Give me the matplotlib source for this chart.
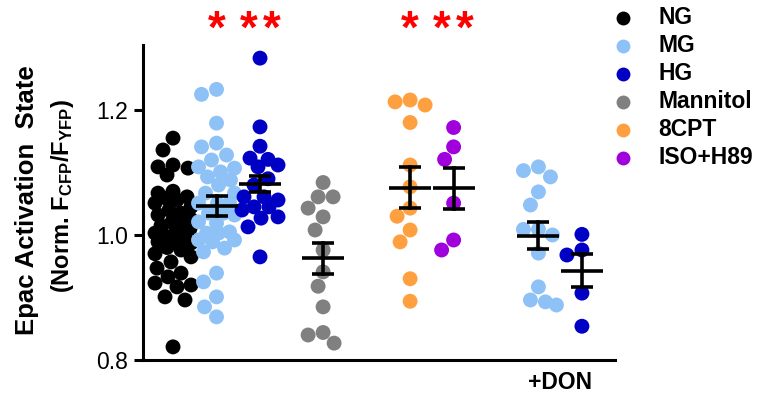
import numpy as np
import matplotlib
matplotlib.use("Agg")
import matplotlib.pyplot as plt

plt.rcParams["font.family"] = ["Liberation Sans", "DejaVu Sans"]
plt.rcParams["mathtext.fontset"] = "custom"
plt.rcParams["mathtext.bf"] = "Liberation Sans:bold"
plt.rcParams["mathtext.rm"] = "Liberation Sans:bold"
plt.rcParams["mathtext.default"] = "bf"

# ---- data -------------------------------------------------------------
group_names = ["NG", "MG", "HG", "Mannitol", "8CPT", "ISO+H89", "MG", "HG"]
legend_names = ["NG", "MG", "HG", "Mannitol", "8CPT", "ISO+H89"]

ng = [1.155, 1.136, 1.109, 1.107, 1.112, 1.096, 1.067, 1.061, 1.056, 1.059,
      1.045, 1.051, 1.032, 1.035, 1.040, 1.021, 1.019, 1.025, 1.003, 1.005,
      1.010, 0.998, 0.987, 0.989, 0.992, 0.995, 0.970, 0.976, 0.980, 0.965,
      0.957, 0.947, 0.933, 0.939, 0.917, 0.920, 0.923, 0.901, 0.896, 0.821,
      1.015, 1.070]
mg = [1.233, 1.225, 1.179, 1.147, 1.141, 1.128, 1.120, 1.109, 1.107, 1.101,
      1.093, 1.088, 1.080, 1.067, 1.067, 1.051, 1.051, 1.051, 1.032, 1.035,
      1.035, 1.021, 1.019, 1.003, 1.005, 1.003, 0.992, 0.989, 0.992, 0.979,
      0.973, 0.939, 0.925, 0.901, 0.885, 0.869]
hg = [1.283, 1.173, 1.142, 1.123, 1.121, 1.112, 1.109, 1.090, 1.080, 1.061,
      1.061, 1.056, 1.045, 1.045, 1.040, 1.027, 1.029, 1.013, 0.965]
mannitol = [1.084, 1.061, 1.061, 1.043, 1.029, 1.008, 0.976, 0.941, 0.918,
            0.885, 0.844, 0.840, 0.827]
cpt8 = [1.213, 1.208, 1.216, 1.180, 1.112, 1.077, 1.043, 1.030, 1.008,
        0.989, 0.930, 0.894]
iso_h89 = [1.172, 1.141, 1.121, 1.051, 0.992, 0.976]
mg_don = [1.109, 1.093, 1.103, 1.069, 1.048, 1.009, 1.009, 1.000, 0.971,
          0.917, 0.896, 0.888, 0.893]
hg_don = [1.001, 0.968, 0.976, 0.907, 0.854]

means = [1.003, 1.046, 1.082, 0.963, 1.076, 1.075, 0.999, 0.943]
sems = [0.010, 0.016, 0.013, 0.025, 0.032, 0.033, 0.022, 0.026]

stars = [0, 1, 2, 0, 1, 2, 0, 0]

# ---- styles -----------------------------------------------------------
colors = ["#000000", "#8EC2F7", "#0000C4", "#808080", "#FFA040", "#A000DC",
          "#8EC2F7", "#0000C4"]
positions = [0, 1, 2, 3.45, 5.45, 6.45, 8.4, 9.4]
series = [ng, mg, hg, mannitol, cpt8, iso_h89, mg_don, hg_don]

W, H, DPI = 757, 396, 100
fig = plt.figure(figsize=(W / DPI, H / DPI), dpi=DPI)
ax = fig.add_axes([143 / W, 36 / H, (615 - 143) / W, (360 - 45) / H])
xlim = (-0.69, 10.16)
ylim = (0.80, 1.304)
ax.set_xlim(*xlim)
ax.set_ylim(*ylim)

px_x = (615 - 143) / (xlim[1] - xlim[0])
px_y = (360 - 45) / (ylim[1] - ylim[0])


def swarm(values, min_d=15.0, max_w=18.0):
    """Beeswarm in pixel space, limited to +/- max_w around the centre."""
    vals = np.asarray(values, float)
    order = np.argsort(-vals)
    cands = np.arange(-max_w, max_w + 0.01, 1.0)
    cands = cands[np.argsort(np.abs(cands), kind="stable")]
    placed_x, placed_y = [], []
    offs = np.zeros(len(vals))
    for i in order:
        yv = vals[i] * px_y
        if placed_x:
            px = np.array(placed_x)
            py = np.array(placed_y)
            dmin = np.sqrt((cands[:, None] - px[None, :]) ** 2
                           + (yv - py[None, :]) ** 2).min(axis=1)
            good = np.nonzero(dmin >= min_d)[0]
            s = cands[good[0]] if len(good) else cands[np.argmax(dmin)]
        else:
            s = 0.0
        placed_x.append(s)
        placed_y.append(yv)
        offs[i] = s
    return offs / px_x


for vals, pos, col in zip(series, positions, colors):
    xo = swarm(vals)
    ax.scatter(pos + xo, vals, s=115, color=col, edgecolors="none", zorder=2)

for pos, m, e in zip(positions, means, sems):
    half_mean = 21 / px_x
    half_cap = 11 / px_x
    ax.plot([pos - half_mean, pos + half_mean], [m, m], color="black",
            lw=2.6, zorder=4, solid_capstyle="butt")
    ax.plot([pos, pos], [m - e, m + e], color="black", lw=2.6, zorder=4)
    for yc in (m - e, m + e):
        ax.plot([pos - half_cap, pos + half_cap], [yc, yc], color="black",
                lw=2.6, zorder=4, solid_capstyle="butt")

star_gap = 23 / px_x
for pos, n in zip(positions, stars):
    for k in range(n):
        xs = pos + (k - (n - 1) / 2) * star_gap
        ax.text(xs, 1.308, "*", color="#FF0000", fontsize=33, ha="center",
                va="baseline", fontweight="bold", clip_on=False)

ax.spines["top"].set_visible(False)
ax.spines["right"].set_visible(False)
ax.spines["left"].set_linewidth(2.2)
ax.spines["bottom"].set_linewidth(2.2)
ax.set_xticks([])
ax.set_yticks([0.8, 1.0, 1.2])
ax.set_yticklabels(["0.8", "1.0", "1.2"])
ax.tick_params(axis="y", length=6.5, width=2.2, labelsize=16.5, pad=4)

ax.text(8.9, 0.783, "+DON", ha="center", va="top", fontsize=16.5,
        fontweight="bold", clip_on=False)

fig.text(27 / W, 1 - 200 / H, "Epac Activation  State", rotation=90,
         ha="center", va="center", fontsize=18.5, fontweight="bold")
fig.text(62 / W, 1 - 196 / H, r"(Norm. $F_{CFP}/F_{YFP}$)", rotation=90,
         ha="center", va="center", fontsize=17, fontweight="bold")

# legend
for k, (name, col) in enumerate(zip(legend_names, colors)):
    yy = 1 - (18 + k * 28) / H
    fig.lines.append(plt.Line2D([623 / W], [yy], marker="o", markersize=10,
                                color=col, markeredgewidth=0,
                                transform=fig.transFigure))
    fig.text(658 / W, yy, name, ha="left", va="center", fontsize=16.5,
             fontweight="bold")

fig.savefig("out.png", dpi=DPI)
